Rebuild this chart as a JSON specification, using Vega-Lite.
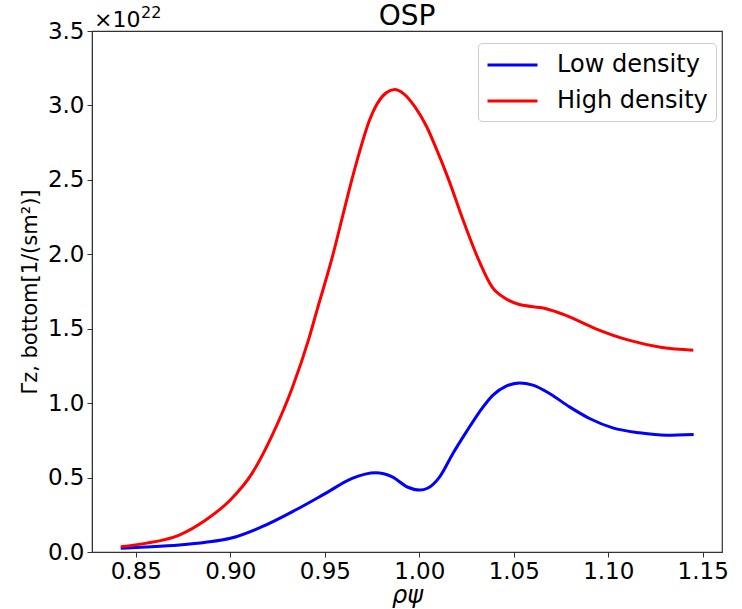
{
  "$schema": "https://vega.github.io/schema/vega-lite/v6.json",
  "width": 630,
  "height": 521,
  "autosize": {"type": "none"},
  "padding": {"left": 92, "top": 31, "right": 20, "bottom": 57},
  "background": "white",
  "config": {
    "font": "DejaVu Sans",
    "view": {"stroke": "#333333", "strokeWidth": 1.2},
    "axis": {"grid": false, "domainColor": "#333333", "tickColor": "#333333", "labelFont": "DejaVu Sans", "titleFont": "DejaVu Sans", "labelColor": "black", "titleColor": "black", "labelFontSize": 23, "titleFontSize": 24, "titleFontWeight": "normal", "tickSize": 5, "labelPadding": 3}
  },
  "layer": [
    {
      "data": {
        "values": [
          {"rho": 0.842, "gamma": 0.025, "series": "Low density"},
          {"rho": 0.855, "gamma": 0.033, "series": "Low density"},
          {"rho": 0.873, "gamma": 0.047, "series": "Low density"},
          {"rho": 0.887, "gamma": 0.065, "series": "Low density"},
          {"rho": 0.900, "gamma": 0.092, "series": "Low density"},
          {"rho": 0.9168, "gamma": 0.170, "series": "Low density"},
          {"rho": 0.9345, "gamma": 0.282, "series": "Low density"},
          {"rho": 0.9504, "gamma": 0.394, "series": "Low density"},
          {"rho": 0.9645, "gamma": 0.495, "series": "Low density"},
          {"rho": 0.9769, "gamma": 0.532, "series": "Low density"},
          {"rho": 0.9857, "gamma": 0.505, "series": "Low density"},
          {"rho": 0.994, "gamma": 0.435, "series": "Low density"},
          {"rho": 1.0002, "gamma": 0.416, "series": "Low density"},
          {"rho": 1.0046, "gamma": 0.43, "series": "Low density"},
          {"rho": 1.0108, "gamma": 0.505, "series": "Low density"},
          {"rho": 1.0178, "gamma": 0.662, "series": "Low density"},
          {"rho": 1.0249, "gamma": 0.807, "series": "Low density"},
          {"rho": 1.0319, "gamma": 0.942, "series": "Low density"},
          {"rho": 1.039, "gamma": 1.054, "series": "Low density"},
          {"rho": 1.046, "gamma": 1.114, "series": "Low density"},
          {"rho": 1.0531, "gamma": 1.136, "series": "Low density"},
          {"rho": 1.0601, "gamma": 1.121, "series": "Low density"},
          {"rho": 1.0689, "gamma": 1.065, "series": "Low density"},
          {"rho": 1.0795, "gamma": 0.975, "series": "Low density"},
          {"rho": 1.0901, "gamma": 0.897, "series": "Low density"},
          {"rho": 1.1024, "gamma": 0.834, "series": "Low density"},
          {"rho": 1.1165, "gamma": 0.801, "series": "Low density"},
          {"rho": 1.1307, "gamma": 0.785, "series": "Low density"},
          {"rho": 1.1452, "gamma": 0.790, "series": "Low density"},
          {"rho": 0.842, "gamma": 0.036, "series": "High density"},
          {"rho": 0.855, "gamma": 0.058, "series": "High density"},
          {"rho": 0.873, "gamma": 0.114, "series": "High density"},
          {"rho": 0.887, "gamma": 0.215, "series": "High density"},
          {"rho": 0.900, "gamma": 0.349, "series": "High density"},
          {"rho": 0.9115, "gamma": 0.528, "series": "High density"},
          {"rho": 0.922, "gamma": 0.78, "series": "High density"},
          {"rho": 0.933, "gamma": 1.11, "series": "High density"},
          {"rho": 0.9415, "gamma": 1.43, "series": "High density"},
          {"rho": 0.946, "gamma": 1.63, "series": "High density"},
          {"rho": 0.954, "gamma": 1.982, "series": "High density"},
          {"rho": 0.960, "gamma": 2.285, "series": "High density"},
          {"rho": 0.9645, "gamma": 2.51, "series": "High density"},
          {"rho": 0.969, "gamma": 2.715, "series": "High density"},
          {"rho": 0.9733, "gamma": 2.888, "series": "High density"},
          {"rho": 0.9777, "gamma": 3.011, "series": "High density"},
          {"rho": 0.9825, "gamma": 3.085, "series": "High density"},
          {"rho": 0.987, "gamma": 3.107, "series": "High density"},
          {"rho": 0.9918, "gamma": 3.078, "series": "High density"},
          {"rho": 0.998, "gamma": 2.985, "series": "High density"},
          {"rho": 1.004, "gamma": 2.855, "series": "High density"},
          {"rho": 1.0085, "gamma": 2.725, "series": "High density"},
          {"rho": 1.0156, "gamma": 2.50, "series": "High density"},
          {"rho": 1.0226, "gamma": 2.250, "series": "High density"},
          {"rho": 1.0315, "gamma": 1.960, "series": "High density"},
          {"rho": 1.0385, "gamma": 1.781, "series": "High density"},
          {"rho": 1.0456, "gamma": 1.703, "series": "High density"},
          {"rho": 1.0526, "gamma": 1.664, "series": "High density"},
          {"rho": 1.0667, "gamma": 1.636, "series": "High density"},
          {"rho": 1.0773, "gamma": 1.591, "series": "High density"},
          {"rho": 1.0931, "gamma": 1.501, "series": "High density"},
          {"rho": 1.1108, "gamma": 1.423, "series": "High density"},
          {"rho": 1.1284, "gamma": 1.374, "series": "High density"},
          {"rho": 1.145, "gamma": 1.356, "series": "High density"}
        ]
      },
      "mark": {"type": "line", "strokeWidth": 3, "interpolate": "monotone"},
      "encoding": {
        "x": {"field": "rho", "type": "quantitative", "scale": {"domain": [0.8268, 1.1602], "nice": false, "zero": false}, "axis": {"values": [0.85, 0.9, 0.95, 1.0, 1.05, 1.1, 1.15], "format": ".2f", "title": "ρψ", "titlePadding": 0, "titleFontStyle": "italic"}},
        "y": {"field": "gamma", "type": "quantitative", "scale": {"domain": [0, 3.5], "nice": false}, "axis": {"values": [0, 0.5, 1, 1.5, 2, 2.5, 3, 3.5], "format": ".1f", "title": "Γz, bottom[1/(sm²)]", "titleFontSize": 21, "titlePadding": 7}},
        "color": {"field": "series", "type": "nominal", "sort": ["Low density", "High density"], "scale": {"domain": ["Low density", "High density"], "range": ["#0000ff", "#ff0000"]},
          "legend": {"title": null, "orient": "none", "legendX": 386, "legendY": 12, "symbolType": "M-1,0H3", "symbolSize": 625, "symbolStrokeWidth": 3, "labelFontSize": 24, "labelFont": "DejaVu Sans", "labelColor": "black", "fillColor": "white", "strokeColor": "#cccccc", "cornerRadius": 4, "padding": 8, "rowPadding": 10, "labelOffset": 43}}
      }
    },
    {
      "data": {"values": [{"label": "×10"}]},
      "mark": {"type": "text", "align": "left", "baseline": "alphabetic", "fontSize": 22, "font": "DejaVu Sans", "color": "black", "dx": 2, "dy": -4},
      "encoding": {
        "text": {"field": "label"},
        "x": {"datum": 0.8268},
        "y": {"datum": 3.5}
      }
    },
    {
      "data": {"values": [{"label": "22"}]},
      "mark": {"type": "text", "align": "left", "baseline": "alphabetic", "fontSize": 16, "font": "DejaVu Sans", "color": "black", "dx": 49, "dy": -13},
      "encoding": {
        "text": {"field": "label"},
        "x": {"datum": 0.8268},
        "y": {"datum": 3.5}
      }
    },
    {
      "data": {"values": [{"title": "OSP"}]},
      "mark": {"type": "text", "align": "center", "baseline": "alphabetic", "fontSize": 28, "font": "DejaVu Sans", "color": "black", "dy": -6},
      "encoding": {
        "text": {"field": "title"},
        "x": {"datum": 0.9935},
        "y": {"datum": 3.5}
      }
    }
  ]
}
